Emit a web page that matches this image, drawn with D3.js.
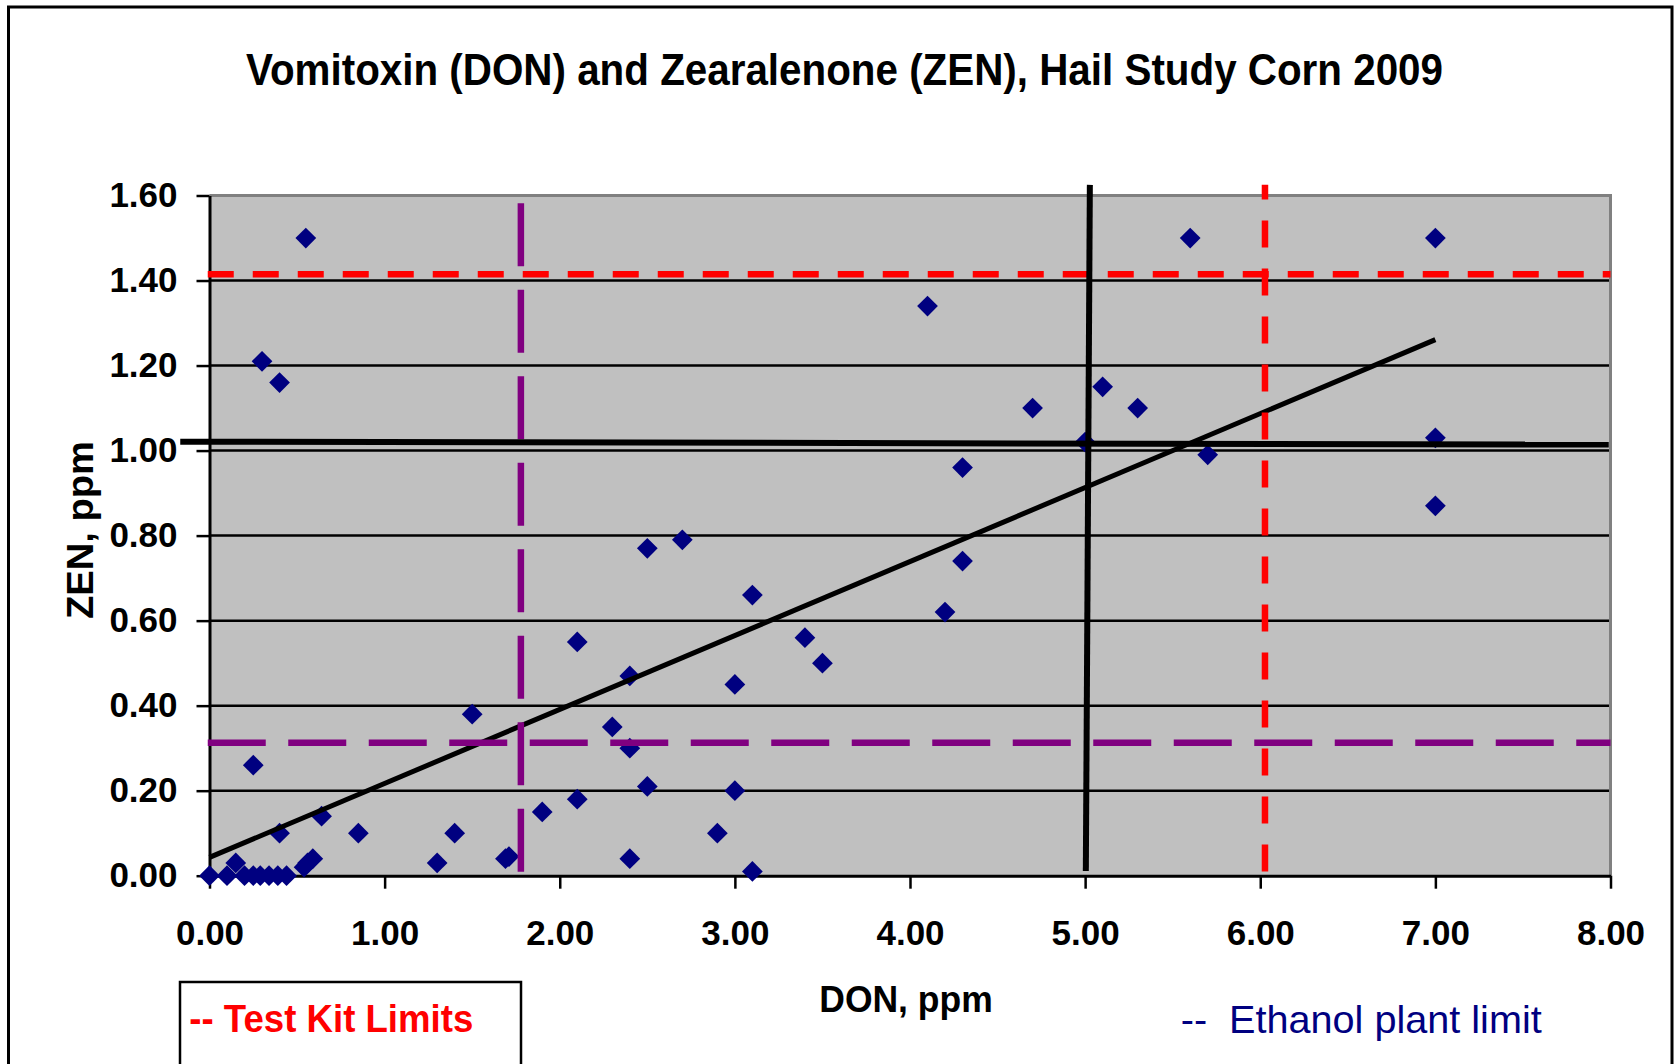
<!DOCTYPE html>
<html><head><meta charset="utf-8">
<script src="https://cdn.jsdelivr.net/npm/d3@7"></script>
<style>
body{margin:0;background:#fff;}
svg{display:block;}
text{font-family:"Liberation Sans",Arial,Helvetica,sans-serif;}
</style>
</head><body>
<svg id="chart" width="1676" height="1064"></svg>
<script>
// ---------------- data ----------------
const chartTitle = "Vomitoxin (DON) and Zearalenone (ZEN), Hail Study Corn 2009";
const xTitle = "DON, ppm";
const yTitle = "ZEN, ppm";
const legendTestKit = "-- Test Kit Limits";
const legendEthanol = "--  Ethanol plant limit";
const xTickValues = [0, 1, 2, 3, 4, 5, 6, 7, 8];
const yTickValues = [0, 0.2, 0.4, 0.6, 0.8, 1.0, 1.2, 1.4, 1.6];
const gridValues = [0.2, 0.4, 0.6, 0.8, 1.0, 1.2, 1.4];

const donValues = [0.00, 0.10, 0.15, 0.20, 0.25, 0.29, 0.34, 0.39, 0.44, 0.25, 0.30, 0.40, 0.40, 0.55, 0.54, 0.56, 0.59, 0.64, 0.85, 1.30, 1.40, 1.50, 1.69, 1.71, 1.90, 2.10, 2.10, 2.30, 2.40, 2.40, 2.40, 2.50, 2.50, 2.70, 2.90, 3.00, 3.00, 3.10, 3.10, 3.40, 3.50, 4.10, 4.20, 4.30, 4.30, 4.70, 5.00, 5.10, 5.30, 5.60, 5.70, 7.00, 7.00, 7.00];
const zenValues = [0.00, 0.00, 0.03, 0.00, 0.00, 0.00, 0.00, 0.00, 0.00, 0.26, 1.21, 1.16, 0.10, 1.50, 0.02, 0.03, 0.04, 0.14, 0.10, 0.03, 0.10, 0.38, 0.04, 0.045, 0.15, 0.55, 0.18, 0.35, 0.47, 0.30, 0.04, 0.77, 0.21, 0.79, 0.10, 0.45, 0.20, 0.66, 0.01, 0.56, 0.50, 1.34, 0.62, 0.96, 0.74, 1.10, 1.02, 1.15, 1.10, 1.50, 0.99, 1.50, 1.03, 0.87];

// linear trendline end points
const trendDon = [0.0, 7.0];
const trendZen = [0.043, 1.261];

// limit lines (data coordinates)
const testKitZenLine = {don: [-0.01, 8.0], zen: [1.415, 1.415]};
const testKitDonLine = {don: [6.027, 6.027], zen: [0.01, 1.625]};
const ethanolZenLine = {don: [-0.01, 8.0], zen: [0.313, 0.313]};
const ethanolDonLine = {don: [1.778, 1.778], zen: [1.582, 0.005]};
// hand-drawn black cross lines
const crossDonLine = {don: [5.027, 5.004], zen: [1.625, 0.011]};
const crossZenLine = {don: [-0.167, 7.99], zen: [1.021, 1.014]};

// ---------------- drawing ----------------
const svg = d3.select("#chart");
const x = d3.scaleLinear().domain([0, 8]).range([209.5, 1610.5]);
const y = d3.scaleLinear().domain([0, 1.6]).range([875.7, 195.5]);
const fmt = d3.format(".2f");

// outer frame
svg.append("path")
  .attr("d", "M8.5,1070 L8.5,7 L1672,7 L1672,1070")
  .attr("fill", "none").attr("stroke", "#000").attr("stroke-width", 3);

function txt(str, tx, ty, size, weight, color, anchor, sy, rotate) {
  const t = svg.append("text")
    .attr("transform", `translate(${tx},${ty})` + (rotate ? ` rotate(${rotate})` : "") + ` scale(1,${sy})`)
    .attr("text-anchor", anchor)
    .attr("font-size", size)
    .attr("font-weight", weight)
    .attr("fill", color)
    .text(str);
  return t;
}

// title
txt(chartTitle, 844.5, 85, 40.5, "bold", "#000", "middle", 1.1)
  .attr("textLength", 1197).attr("lengthAdjust", "spacingAndGlyphs");

// plot background
svg.append("rect")
  .attr("x", x(0)).attr("y", y(1.6))
  .attr("width", x(8) - x(0)).attr("height", y(0) - y(1.6))
  .attr("fill", "#C0C0C0");

// gridlines
svg.append("g").selectAll("line").data(gridValues).join("line")
  .attr("x1", x(0)).attr("x2", x(8))
  .attr("y1", d => y(d)).attr("y2", d => y(d))
  .attr("stroke", "#000").attr("stroke-width", 2.5);

// top and right gray border
svg.append("path")
  .attr("d", `M${x(0)},${y(1.6)} L${x(8)},${y(1.6)} L${x(8)},${y(0)}`)
  .attr("fill", "none").attr("stroke", "#808080").attr("stroke-width", 3);

// axes
const yAxis = d3.axisLeft(y).tickValues(yTickValues).tickFormat(fmt)
  .tickSize(13).tickSizeOuter(0).tickPadding(19);
const gy = svg.append("g").attr("transform", `translate(${x(0)},0)`).call(yAxis);
const xAxis = d3.axisBottom(x).tickValues(xTickValues).tickFormat(fmt)
  .tickSize(13).tickSizeOuter(0).tickPadding(31);
const gx = svg.append("g").attr("transform", `translate(0,${y(0)})`).call(xAxis);
[gx, gy].forEach(g => {
  g.select(".domain").attr("stroke", "#000").attr("stroke-width", 3);
  g.selectAll(".tick line").attr("stroke", "#000").attr("stroke-width", 2.5);
  g.selectAll(".tick text")
    .attr("font-family", '"Liberation Sans",Arial,sans-serif')
    .attr("font-size", 35).attr("font-weight", "bold").attr("fill", "#000");
});

// points
const pts = donValues.map((d, i) => ({don: d, zen: zenValues[i]}));
const sym = d3.symbol().type(d3.symbolSquare).size(215);
svg.append("g").selectAll("path").data(pts).join("path")
  .attr("d", sym)
  .attr("transform", d => `translate(${x(d.don)},${y(d.zen)}) rotate(45)`)
  .attr("fill", "#000080");

// trendline
const line = d3.line().x(d => x(d[0])).y(d => y(d[1]));
svg.append("path")
  .attr("d", line(trendDon.map((d, i) => [d, trendZen[i]])))
  .attr("fill", "none").attr("stroke", "#000").attr("stroke-width", 5);

function refLine(obj, color, width, dash) {
  const p = svg.append("path")
    .attr("d", line(obj.don.map((d, i) => [d, obj.zen[i]])))
    .attr("fill", "none").attr("stroke", color).attr("stroke-width", width);
  if (dash) p.attr("stroke-dasharray", dash);
  return p;
}
refLine(ethanolZenLine, "#800080", 6.5, "58,22.5");
refLine(ethanolDonLine, "#800080", 6.5, "63,23.5");
refLine(testKitZenLine, "#FF0000", 6.5, "26,19");
refLine(testKitDonLine, "#FF0000", 6.5, "27,21");
refLine(crossDonLine, "#000", 6, null);
refLine(crossZenLine, "#000", 6, null);

// axis titles
txt(xTitle, 906, 1012, 35.5, "bold", "#000", "middle", 1.05);
txt(yTitle, 93, 530, 36, "bold", "#000", "middle", 1.05, -90)
  .attr("textLength", 178).attr("lengthAdjust", "spacingAndGlyphs");

// legend boxes
svg.append("rect")
  .attr("x", 180).attr("y", 982).attr("width", 341).attr("height", 100)
  .attr("fill", "#fff").attr("stroke", "#000").attr("stroke-width", 2.5);
txt(legendTestKit, 189.3, 1031.7, 36.2, "bold", "#FF0000", "start", 1.06)
  .attr("textLength", 284).attr("lengthAdjust", "spacingAndGlyphs");
txt(legendEthanol, 1180.7, 1033.3, 39.6, "normal", "#000080", "start", 1.0)
  .attr("textLength", 361).attr("lengthAdjust", "spacingAndGlyphs").style("white-space", "pre");
</script>
</body></html>
